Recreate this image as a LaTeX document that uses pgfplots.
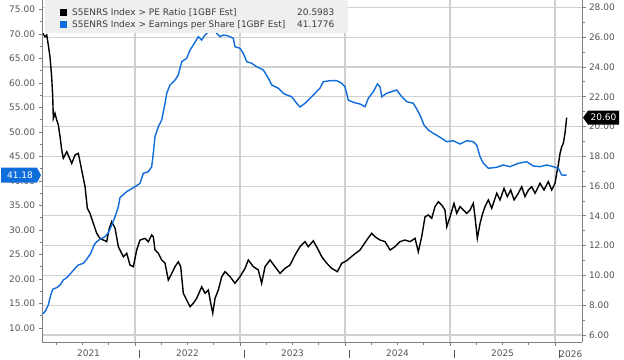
\documentclass[border=0pt]{standalone}
\usepackage{pgfplots}
\usepackage{pgfplotstable}
\pgfplotsset{compat=1.18}
\usepackage{fontspec}
\setmainfont{DejaVu Sans}
\definecolor{epsblue}{HTML}{0F6CDB}
\definecolor{gridc}{HTML}{D0D0D0}
\definecolor{axc}{HTML}{808080}
\definecolor{labc}{HTML}{555555}
\definecolor{legbg}{HTML}{EFEFEF}
\definecolor{legtxt}{HTML}{3C3C3C}
\newcommand\xbar{\rule[-0.8bp]{0.9bp}{8bp}}
\tikzset{yrlab/.style={anchor=north, text=labc, yshift=-4.5bp},
         gl/.style={draw=gridc, line width=1.1bp}}

\pgfplotstableread{
t v
2021.121 12.86
2021.143 13.33
2021.174 14.69
2021.197 16.73
2021.216 17.90
2021.254 18.22
2021.286 18.78
2021.317 19.80
2021.350 20.27
2021.388 21.16
2021.429 22.18
2021.460 22.86
2021.508 23.20
2021.546 24.22
2021.578 25.24
2021.610 26.94
2021.635 27.61
2021.667 28.10
2021.714 28.63
2021.746 29.45
2021.778 31.02
2021.810 32.71
2021.841 34.76
2021.857 36.63
2021.921 37.82
2022.000 38.84
2022.048 39.53
2022.079 41.57
2022.127 41.90
2022.159 42.92
2022.174 45.65
2022.190 49.04
2022.222 51.08
2022.254 52.45
2022.286 55.86
2022.302 57.90
2022.333 59.59
2022.381 60.61
2022.412 61.63
2022.445 64.35
2022.492 65.04
2022.524 66.73
2022.555 67.76
2022.603 69.45
2022.635 68.78
2022.667 69.80
2022.714 70.82
2022.746 70.96
2022.778 70.14
2022.810 69.45
2022.841 69.80
2022.889 69.59
2022.936 69.12
2022.952 67.41
2023.000 67.08
2023.031 66.06
2023.064 64.35
2023.111 64.02
2023.159 63.33
2023.222 62.65
2023.270 60.96
2023.302 59.59
2023.365 58.92
2023.412 57.90
2023.445 57.55
2023.492 57.20
2023.540 55.86
2023.571 55.10
2023.619 55.86
2023.667 56.88
2023.714 57.90
2023.762 58.98
2023.793 60.27
2023.857 60.47
2023.921 60.47
2023.969 59.94
2024.000 59.24
2024.031 56.53
2024.079 56.06
2024.143 55.71
2024.190 55.16
2024.222 56.88
2024.270 58.22
2024.308 59.80
2024.333 59.24
2024.350 57.20
2024.397 57.90
2024.492 58.57
2024.540 57.20
2024.588 56.18
2024.650 55.86
2024.689 54.49
2024.721 53.12
2024.752 51.43
2024.793 50.41
2024.841 49.73
2024.905 48.92
2024.969 48.02
2025.031 48.22
2025.095 47.55
2025.159 48.22
2025.222 48.02
2025.254 47.35
2025.286 44.96
2025.317 43.61
2025.365 42.59
2025.445 42.80
2025.508 43.27
2025.571 42.92
2025.650 43.61
2025.730 43.94
2025.793 43.06
2025.857 42.92
2025.921 43.27
2025.984 42.92
2026.031 42.59
2026.064 41.22
2026.111 41.18
}\epstable

\pgfplotstableread{
t v
2021.121 26.26
2021.143 26.03
2021.159 26.15
2021.174 25.48
2021.190 24.69
2021.206 23.35
2021.216 22.00
2021.222 20.55
2021.238 20.89
2021.254 20.44
2021.270 20.10
2021.286 19.32
2021.302 18.42
2021.317 17.87
2021.350 18.31
2021.397 17.53
2021.429 18.09
2021.460 18.20
2021.492 17.08
2021.524 15.96
2021.546 14.51
2021.571 14.17
2021.603 13.50
2021.635 12.83
2021.667 12.49
2021.698 12.38
2021.730 12.27
2021.755 13.17
2021.778 13.61
2021.810 13.17
2021.841 11.93
2021.857 11.71
2021.889 11.26
2021.921 11.49
2021.952 10.70
2021.984 10.59
2022.016 11.71
2022.048 12.38
2022.095 12.49
2022.127 12.27
2022.159 12.72
2022.174 12.60
2022.190 11.71
2022.222 11.49
2022.254 11.04
2022.286 10.82
2022.317 9.69
2022.350 10.14
2022.381 10.59
2022.412 10.92
2022.435 10.59
2022.460 8.80
2022.492 8.35
2022.524 7.90
2022.555 8.13
2022.587 8.46
2022.635 9.24
2022.667 8.80
2022.698 9.02
2022.721 8.13
2022.740 7.46
2022.762 8.46
2022.793 9.02
2022.826 9.92
2022.857 10.25
2022.905 9.92
2022.952 9.47
2023.000 9.92
2023.048 10.48
2023.079 11.04
2023.127 10.59
2023.174 10.37
2023.206 9.47
2023.238 10.59
2023.286 11.04
2023.333 10.59
2023.381 10.14
2023.429 10.48
2023.476 10.70
2023.524 11.37
2023.571 11.93
2023.619 12.27
2023.650 11.93
2023.698 12.33
2023.746 11.71
2023.778 11.26
2023.826 10.82
2023.873 10.48
2023.927 10.25
2023.969 10.82
2024.016 10.99
2024.079 11.37
2024.143 11.71
2024.207 12.38
2024.254 12.83
2024.286 12.60
2024.333 12.38
2024.381 12.27
2024.429 11.71
2024.476 11.93
2024.524 12.27
2024.571 12.38
2024.619 12.27
2024.667 12.49
2024.698 11.59
2024.730 12.60
2024.762 13.94
2024.793 14.06
2024.826 13.84
2024.857 14.62
2024.889 14.95
2024.921 14.73
2024.952 14.39
2024.969 13.27
2025.000 13.94
2025.038 14.84
2025.064 14.17
2025.095 14.62
2025.127 14.39
2025.159 14.17
2025.190 14.39
2025.222 14.84
2025.238 13.94
2025.260 12.49
2025.286 13.50
2025.311 14.17
2025.333 14.62
2025.365 15.07
2025.397 14.51
2025.445 15.52
2025.476 15.07
2025.514 15.85
2025.546 15.29
2025.578 15.74
2025.610 15.07
2025.650 15.52
2025.683 15.96
2025.714 15.29
2025.746 15.74
2025.778 15.96
2025.810 15.52
2025.857 16.19
2025.895 15.74
2025.936 16.30
2025.968 15.74
2026.000 16.19
2026.016 16.86
2026.031 17.42
2026.048 18.20
2026.064 18.65
2026.079 18.87
2026.095 19.55
2026.111 20.60
}\petable

\begin{document}
\begin{tikzpicture}[font=\fontsize{9bp}{11bp}\selectfont]
\path[use as bounding box] (0,0) rectangle (624bp,360bp);
\pgfplotsset{
  common/.style={
    at={(42bp,18bp)}, anchor=south west, scale only axis,
    width=540bp, height=342bp,
    xmin=2021.114, xmax=2026.257,
    clip mode=individual,
    axis line style={axc, -, line width=0.8bp},
    tick align=outside,
    major tick length=3.5bp, minor tick length=2.5bp,
    tick style={axc, line width=0.8bp},
    ticklabel style={text=labc, font=\fontsize{9bp}{11bp}\selectfont},
    /pgf/number format/fixed,
    /pgf/number format/fixed zerofill,
    /pgf/number format/precision=2,
    /pgf/number format/assume math mode=true,
  },
}
% Right axis (PE ratio) + x axis + grid
\begin{axis}[common,
  axis x line*=bottom, axis y line*=right,
  ymin=5.53, ymax=28.50,
  ytick={6,8,...,28}, minor ytick={7,9,...,27},
  xtick={2022,2023,2024,2025,2026},
  xticklabels={\xbar,\xbar,\xbar,\xbar,\xbar2026},
  xticklabel style={anchor=north west, yshift=-1bp},
  minor xtick={2021.25,2021.5,2021.75,2022.25,2022.5,2022.75,2023.25,2023.5,2023.75,2024.25,2024.5,2024.75,2025.25,2025.5,2025.75},
  yticklabel style={anchor=west},
]
% grid lines
\draw[gl] (axis cs:2021.114,6) -- (axis cs:2026.257,6);
\draw[gl] (axis cs:2021.114,8) -- (axis cs:2026.257,8);
\draw[gl] (axis cs:2021.114,10) -- (axis cs:2026.257,10);
\draw[gl] (axis cs:2021.114,12) -- (axis cs:2026.257,12);
\draw[gl] (axis cs:2021.114,14) -- (axis cs:2026.257,14);
\draw[gl] (axis cs:2021.114,16) -- (axis cs:2026.257,16);
\draw[gl] (axis cs:2021.114,18) -- (axis cs:2026.257,18);
\draw[gl] (axis cs:2021.114,20) -- (axis cs:2026.257,20);
\draw[gl] (axis cs:2021.114,22) -- (axis cs:2026.257,22);
\draw[gl] (axis cs:2021.114,24) -- (axis cs:2026.257,24);
\draw[gl] (axis cs:2021.114,26) -- (axis cs:2026.257,26);
\draw[gl] (axis cs:2021.114,28) -- (axis cs:2026.257,28);
\draw[gl] (axis cs:2022,5.53) -- (axis cs:2022,28.5);
\draw[gl] (axis cs:2023,5.53) -- (axis cs:2023,28.5);
\draw[gl] (axis cs:2024,5.53) -- (axis cs:2024,28.5);
\draw[gl] (axis cs:2025,5.53) -- (axis cs:2025,28.5);
\draw[gl] (axis cs:2026,5.53) -- (axis cs:2026,28.5);
\addplot[black, line width=1.4bp] table[x=t, y=v] {\petable};
\coordinate (petag) at (axis cs:2026.257,20.60);
\node[yrlab] at (axis cs:2021.557,5.53) {2021};
\node[yrlab] at (axis cs:2022.5,5.53) {2022};
\node[yrlab] at (axis cs:2023.5,5.53) {2023};
\node[yrlab] at (axis cs:2024.5,5.53) {2024};
\node[yrlab] at (axis cs:2025.5,5.53) {2025};
\end{axis}
% Left axis (EPS)
\begin{axis}[common,
  axis x line=none, axis y line*=left,
  ymin=7.14, ymax=76.94,
  ytick={10,15,...,75}, minor ytick={12.5,17.5,...,72.5},
  yticklabel style={anchor=east},
]
\addplot[epsblue, line width=1.4bp] table[x=t, y=v] {\epstable};
\coordinate (epstag) at (axis cs:2021.114,41.18);
\end{axis}
% value tags
\fill[black] ([xshift=1bp]petag) -- ++(5bp,7bp) -- ++(31bp,0) -- ++(0,-14bp) -- ++(-31bp,0) -- cycle;
\node[text=white] at ([xshift=21.5bp]petag) {20.60};
\fill[epsblue] ([xshift=-1bp]epstag) -- ++(-4bp,7.5bp) -- ++(-36bp,0) -- ++(0,-15bp) -- ++(36bp,0) -- cycle;
\node[text=white] at ([xshift=-22bp]epstag) {41.18};
% Legend box
\fill[legbg] (45bp,327bp) rectangle (348bp,360bp);
\fill[black] (60bp,344bp) rectangle (67bp,351bp);
\fill[epsblue] (60bp,332bp) rectangle (67bp,339bp);
\node[anchor=base west, inner sep=0pt, text=legtxt] at (72bp,344.3bp) {S5ENRS Index > PE Ratio [1GBF Est]};
\node[anchor=base west, inner sep=0pt, text=legtxt] at (72bp,332.5bp) {S5ENRS Index > Earnings per Share [1GBF Est]};
\node[anchor=base west, inner sep=0pt, text=legtxt] at (297bp,344.3bp) {20.5983};
\node[anchor=base west, inner sep=0pt, text=legtxt] at (297bp,332.5bp) {41.1776};
\end{tikzpicture}
\end{document}
